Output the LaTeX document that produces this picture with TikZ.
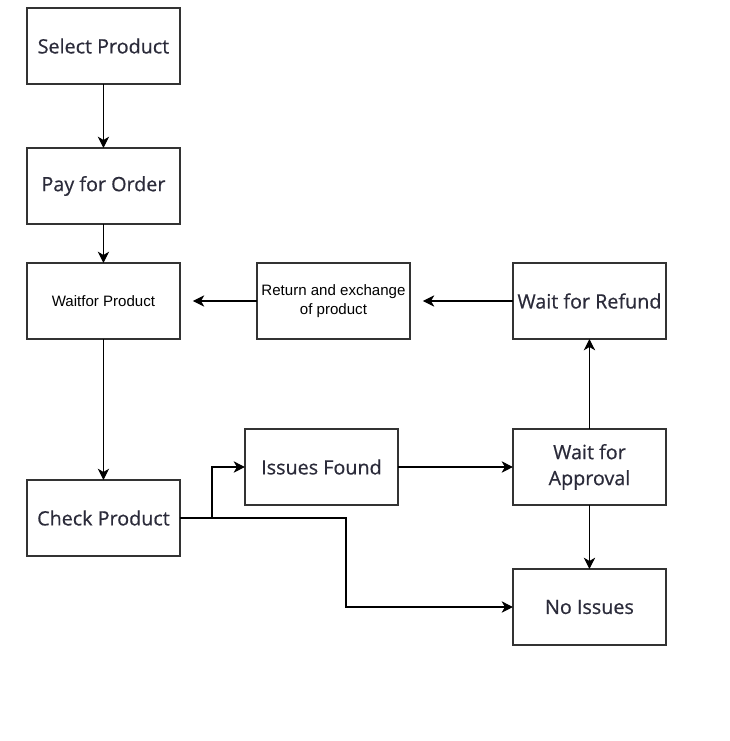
\documentclass[tikz,border=0pt]{standalone}
\usepackage{fontspec}
\setmainfont{Open Sans}
\newfontfamily\boxfont{Open Sans}[FakeBold=0.6]
\newfontfamily\arialfont{Liberation Sans}
\usetikzlibrary{positioning, arrows.meta}
\definecolor{boxline}{HTML}{333333}
\definecolor{boxtext}{HTML}{2B2B3A}

\begin{document}
\begin{tikzpicture}[every node/.style={rectangle, draw=boxline, line width=0.8pt, outer sep=0pt, align=center, minimum width=114.75pt, minimum height=57pt, inner sep=2pt, text=boxtext, font=\boxfont\fontsize{14.8}{19.5}\selectfont}, small/.style={font=\arialfont\fontsize{11.3}{14}\selectfont, text=black}, >={Stealth[length=8.5pt, width=8.5pt, inset=2.5pt]}]
        \useasboundingbox (0,0) rectangle (546.75pt,-555.75pt);
        % Nodes
        \node (sel) at (77.6pt,-34.5pt) {Select Product};
        \node (pay) [below=48pt of sel] {Pay for Order};
        \node (wait) [below=29.25pt of pay, small] {Waitfor Product};
        \node (ret) [right=57.75pt of wait, small] {Return and exchange\\of product};
        \node (refund) [right=77.25pt of ret] {Wait for Refund};
        \node (chk) [below=105.75pt of wait] {Check Product};
        \node (appr) [below=67.5pt of refund] {Wait for\\Approval};
        \node (iss) [left=86.25pt of appr] {Issues Found};
        \node (noiss) [below=48pt of appr] {No Issues};

        % Main vertical arrows
        \foreach \i/\j in {sel/pay, pay/wait, wait/chk, iss/appr, appr/refund, appr/noiss}
        \draw[->, line width=0.8pt] (\i) -- (\j);

        % Return arrows
        \draw[->, line width=0.8pt, shorten >=9.75pt] (ret) -- (wait);
        \draw[->, line width=0.8pt, shorten >=9.75pt] (refund) -- (ret);

        % Check outputs
        \draw[->, line width=0.8pt] (chk.east) -- ++(24pt,0) |- (iss.west);
        \draw[->, line width=0.8pt] (chk.east) -- ++(124.5pt,0) |- (noiss.west);

        \end{tikzpicture}
\end{document}
